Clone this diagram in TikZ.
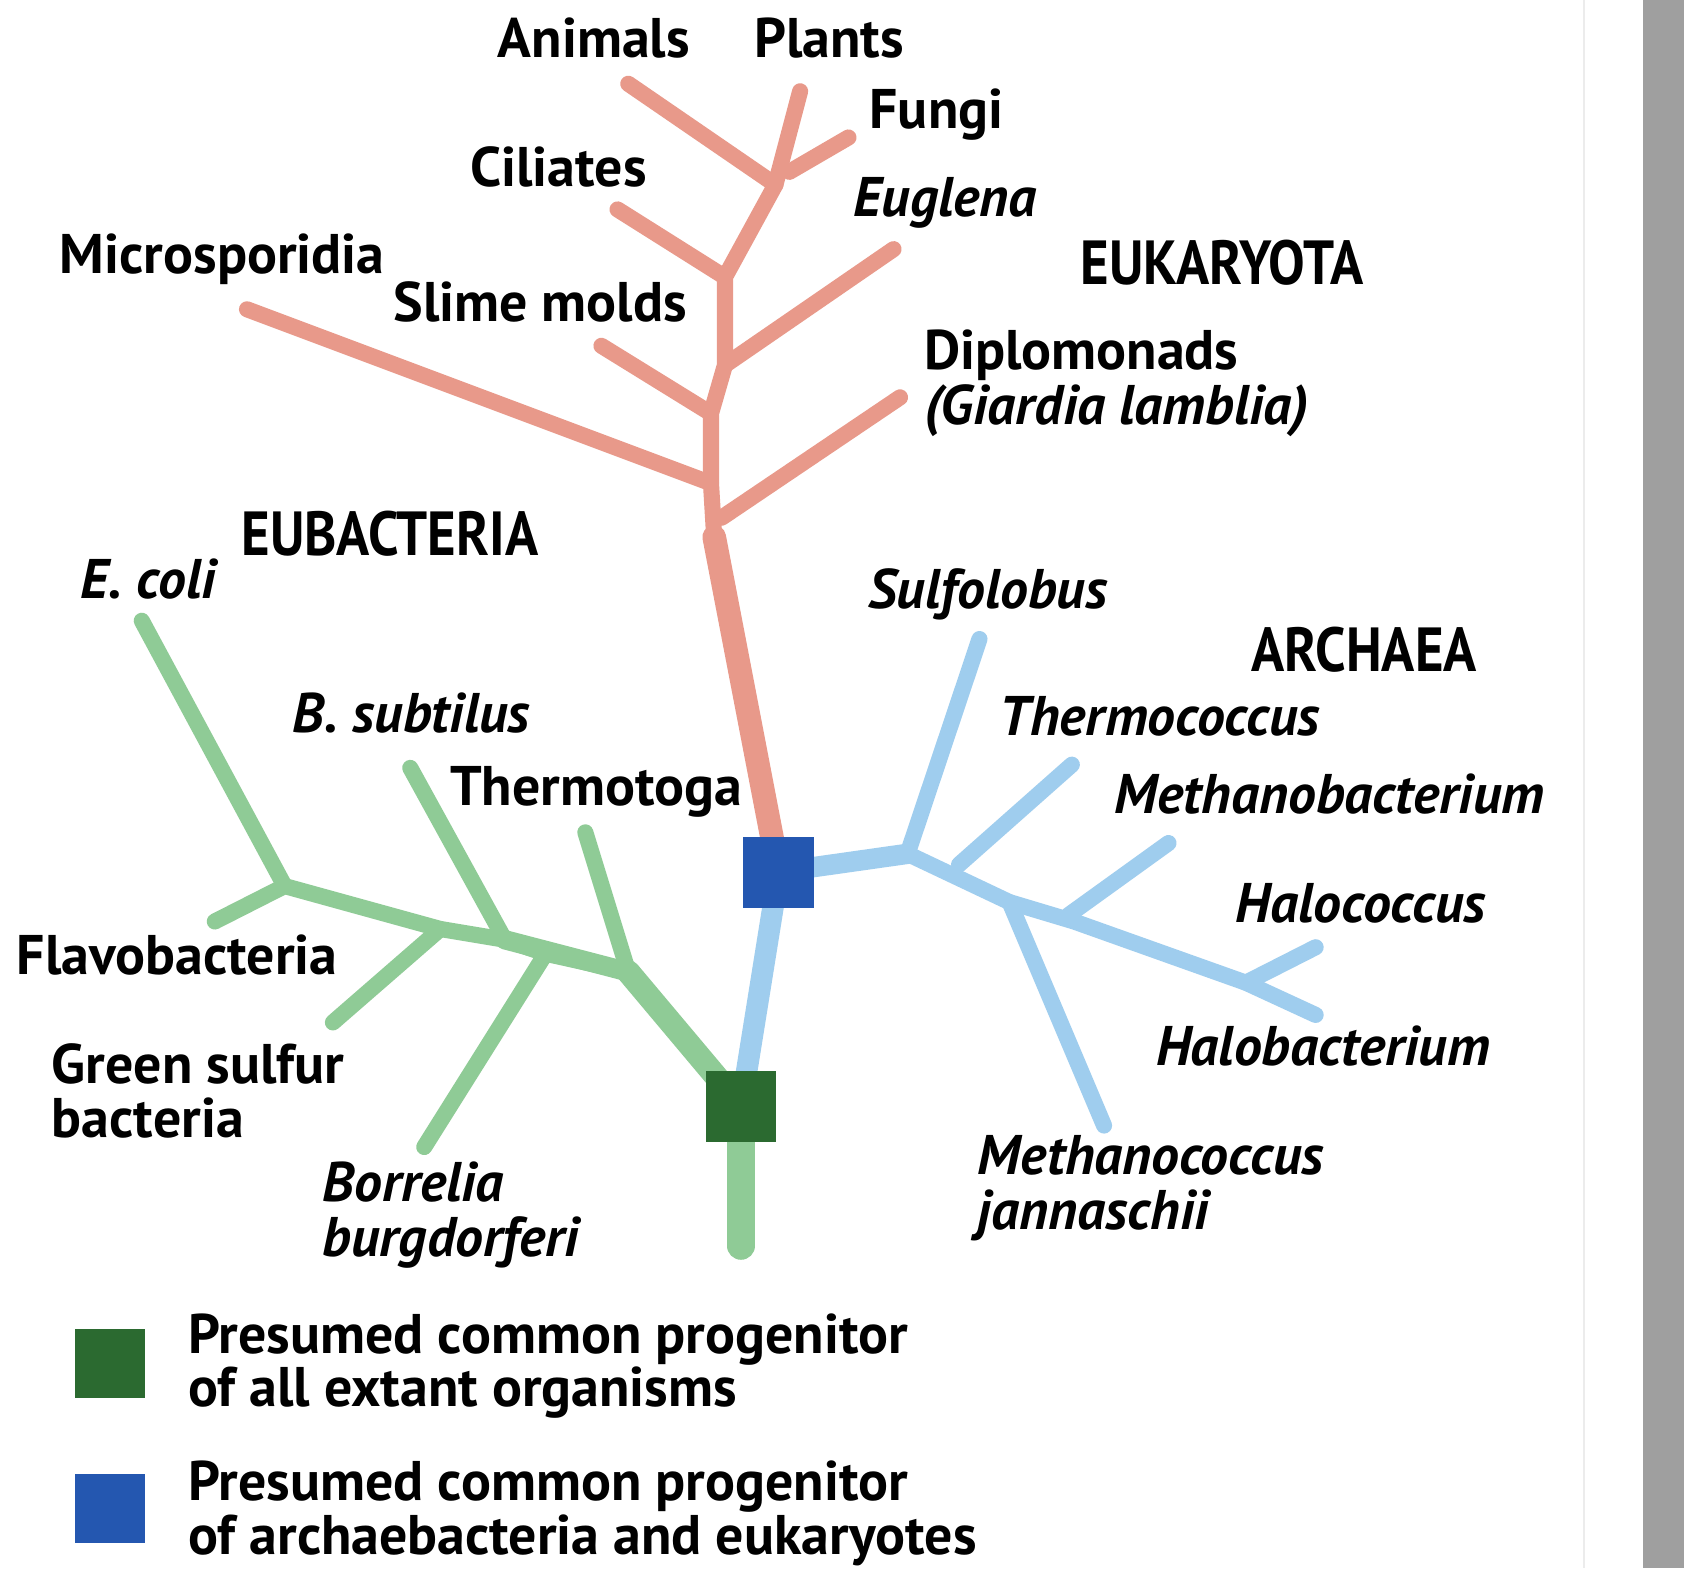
\documentclass[tikz,border=0pt]{standalone}
\usepackage{fontspec}
\setmainfont{PT Sans}
\begin{document}
\begin{tikzpicture}[x=0.5pt,y=-0.5pt,
 eu/.style={draw=euk,line width=7.5pt,line cap=round,line join=round},
 gb/.style={draw=bac,line width=7.5pt,line cap=round,line join=round},
 ab/.style={draw=arc,line width=7.5pt,line cap=round,line join=round},
 lab/.style={font=\fontsize{26}{28}\selectfont\bfseries,inner sep=0pt,text height=17pt,text depth=5pt},
 ilab/.style={font=\fontsize{26}{28}\selectfont\bfseries\itshape,inner sep=0pt,text height=17pt,text depth=5pt},
 head/.style={font=\fontsize{29}{31}\selectfont\bfseries,inner sep=0pt,xscale=0.88},
 sq/.style={minimum size=33pt,inner sep=0pt}]
\definecolor{euk}{HTML}{E8998A}
\definecolor{bac}{HTML}{8FCB96}
\definecolor{arc}{HTML}{9FCDEE}
\definecolor{dg}{HTML}{2B6A30}
\definecolor{db}{HTML}{2457B0}
\useasboundingbox (0,0) rectangle (1568,1460);
\fill[white] (0,0) rectangle (1568,1460);
\fill[gray!75] (1530,0) rectangle (1568,1460);
\draw[gray!15,line width=1pt] (1475,0) -- (1475,1460);
% eukaryota coordinates
\coordinate (B) at (725,812);
\coordinate (G) at (690,1030);
\coordinate (e1) at (665,500);
\coordinate (e2) at (662,450);
\coordinate (e3) at (662,385);
\coordinate (e4) at (675,340);
\coordinate (e5) at (675,258);
\coordinate (e6) at (722,172);
\coordinate (plants) at (745,85);
\coordinate (animals) at (585,78);
\coordinate (fungi) at (790,128);
\coordinate (cil) at (575,195);
\coordinate (eug) at (832,232);
\coordinate (slime) at (560,322);
\coordinate (micro) at (230,288);
\coordinate (dipl) at (838,370);
\coordinate (e7) at (672,482);
\draw[eu] (e1) -- (e2) -- (e3) -- (e4) -- (e5) -- (e6) -- (plants);
\draw[eu,line width=11pt] (B) -- (e1);
\draw[eu] (animals) -- (e6);
\draw[eu] (fungi) -- (735,160);
\draw[eu] (cil) -- (e5);
\draw[eu] (eug) -- (e4);
\draw[eu] (slime) -- (e3);
\draw[eu] (micro) -- (e2);
\draw[eu] (dipl) -- (e7);
% archaea
\coordinate (a0) at (845,795);
\coordinate (a1) at (940,840);
\coordinate (a2) at (1000,858);
\coordinate (a3) at (1160,915);
\coordinate (halob) at (1225,945);
\coordinate (sulf) at (912,595);
\coordinate (thermoc) at (998,712);
\coordinate (mbact) at (1088,785);
\coordinate (haloc) at (1225,882);
\coordinate (mcoc) at (1028,1048);
\draw[ab,line width=10pt] (B) -- (G);
\draw[ab] (a0) -- (a1) -- (a2) -- (a3) -- (halob);
\draw[ab,line width=9.5pt] (B) -- (a0);
\draw[ab] (a0) -- (sulf);
\draw[ab] (thermoc) -- (893,805);
\draw[ab] (mbact) -- (995,852);
\draw[ab] (haloc) -- (a3);
\draw[ab] (a1) -- (mcoc);
% eubacteria
\coordinate (b1) at (585,905);
\coordinate (b2) at (508,888);
\coordinate (b3) at (470,875);
\coordinate (b4) at (410,865);
\coordinate (b5) at (265,825);
\coordinate (ecoli) at (132,578);
\coordinate (flavo) at (200,858);
\coordinate (gsulf) at (310,952);
\coordinate (bsub) at (382,715);
\coordinate (thermo) at (545,775);
\coordinate (borr) at (395,1068);
\draw[gb] (b1) -- (b2) -- (b3) -- (b4) -- (b5) -- (ecoli);
\draw[gb,line width=9pt] (b1) -- (b3);
\draw[gb,line width=11pt] (G) -- (b1);
\draw[gb] (flavo) -- (b5);
\draw[gb] (gsulf) -- (b4);
\draw[gb] (bsub) -- (b3);
\draw[gb] (thermo) -- (b1);
\draw[gb] (borr) -- (b2);
\coordinate (root) at (690,1160);
\draw[gb,line width=13pt] (G) -- (root);
\node[sq,fill=db] (Bsq) at (B) {};
\node[sq,fill=dg] (Gsq) at (G) {};
% labels
\node[lab] (tA) at (553,42) {Animals};
\node[lab] (tP) at (772,42) {Plants};
\node[lab] (tF) at (872,108) {Fungi};
\node[lab] (tC) at (520,162) {Ciliates};
\node[ilab] (tE) at (880,190) {Euglena};
\node[head] (tEU) at (1138,245) {EUKARYOTA};
\node[lab] (tM) at (207,243) {Microsporidia};
\node[lab] (tS) at (503,287) {Slime molds};
\node[lab,anchor=west] (tD) at (860,332) {Diplomonads};
\node[ilab,anchor=west] (tG) at (860,383) {(Giardia lamblia)};
\node[head] (tEB) at (363,497) {EUBACTERIA};
\node[ilab] (tEc) at (138,545) {E. coli};
\node[ilab] (tSu) at (920,555) {Sulfolobus};
\node[head] (tAR) at (1270,605) {ARCHAEA};
\node[ilab] (tBs) at (383,670) {B. subtilus};
\node[lab] (tTt) at (555,738) {Thermotoga};
\node[ilab] (tTc) at (1080,673) {Thermococcus};
\node[ilab] (tMb) at (1238,745) {Methanobacterium};
\node[ilab] (tHc) at (1267,847) {Halococcus};
\node[lab] (tFl) at (165,895) {Flavobacteria};
\node[ilab] (tHb) at (1232,980) {Halobacterium};
\node[lab,anchor=west] (tGs1) at (48,997) {Green sulfur};
\node[lab,anchor=west] (tGs2) at (48,1047) {bacteria};
\node[ilab,anchor=west] (tBo1) at (300,1107) {Borrelia};
\node[ilab,anchor=west] (tBo2) at (300,1158) {burgdorferi};
\node[ilab,anchor=west] (tMc1) at (910,1082) {Methanococcus};
\node[ilab,anchor=west] (tMc2) at (910,1133) {jannaschii};
% legend
\fill[dg] (70,1237) rectangle (135,1302);
\fill[db] (70,1372) rectangle (135,1437);
\node[lab,anchor=west] (L1a) at (175,1248) {Presumed common progenitor};
\node[lab,anchor=west] (L1b) at (175,1298) {of all extant organisms};
\node[lab,anchor=west] (L2a) at (175,1385) {Presumed common progenitor};
\node[lab,anchor=west] (L2b) at (175,1435) {of archaebacteria and eukaryotes};
\end{tikzpicture}
\end{document}
